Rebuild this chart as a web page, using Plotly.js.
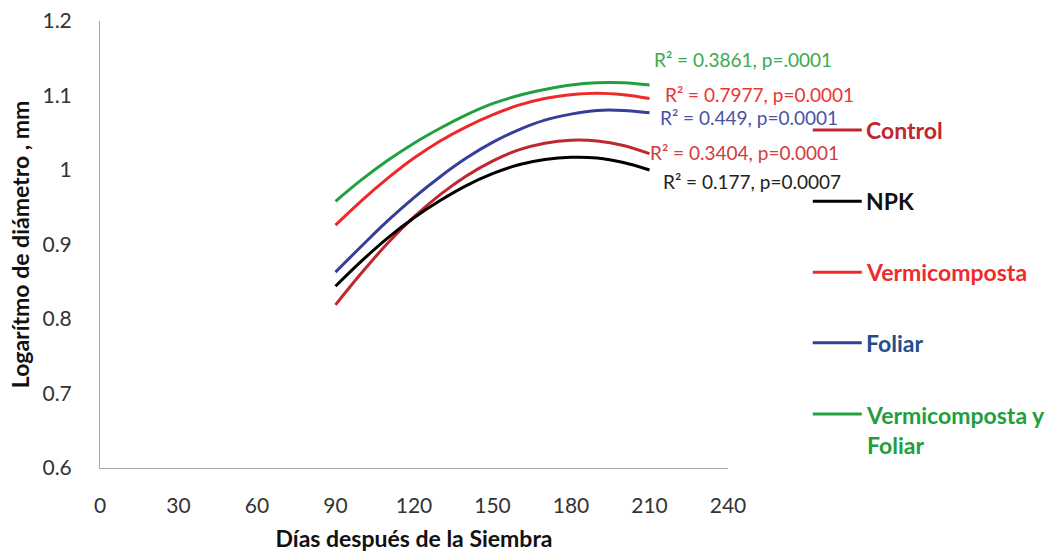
<!DOCTYPE html>
<html>
<head>
<meta charset="utf-8">
<script src="https://cdn.plot.ly/plotly-3.0.1.min.js"></script>
<style>html,body{margin:0;padding:0;background:#fff;}#chart{width:1058px;height:555px;}</style>
</head>
<body>
<div id="chart"></div>
<script>
// Days after sowing
const days = [90, 100, 110, 120, 130, 140, 150, 160, 170, 180, 190, 200, 210];
// Fitted log-diameter curves
const control       = [0.819, 0.862, 0.902, 0.937, 0.967, 0.992, 1.012, 1.027, 1.036, 1.040, 1.039, 1.033, 1.022];
const npk           = [0.844, 0.878, 0.909, 0.936, 0.959, 0.979, 0.995, 1.007, 1.014, 1.017, 1.016, 1.010, 1.000];
const vermicomposta = [0.926, 0.959, 0.989, 1.016, 1.039, 1.058, 1.074, 1.087, 1.096, 1.101, 1.103, 1.101, 1.096];
const foliar        = [0.863, 0.898, 0.932, 0.963, 0.991, 1.016, 1.037, 1.054, 1.067, 1.075, 1.080, 1.080, 1.077];
const vermiFoliar   = [0.958, 0.987, 1.013, 1.036, 1.056, 1.074, 1.089, 1.100, 1.108, 1.114, 1.117, 1.117, 1.114];

const seriesNames = ["Control", "NPK", "Vermicomposta", "Foliar", "Vermicomposta y<br>Foliar"];
const seriesData = [control, npk, vermicomposta, foliar, vermiFoliar];
const lineColors = ["#C0272D", "#000000", "#F0282A", "#353F9A", "#22A040"];
const legendTextColors = ["#C0272D", "#111111", "#EE2B2B", "#1F4E8C", "#1E9E3E"];

const statLabels = ["R² = 0.3404, p=0.0001", "R² = 0.177, p=0.0007", "R² = 0.7977, p=0.0001", "R² = 0.449, p=0.0001", "R² = 0.3861, p=.0001"];
const statColors = ["#D13B42", "#222222", "#EE3333", "#4A52A8", "#3BAA4E"];
const statX = [209.3, 214.3, 215.1, 213.2, 210.9];
const statY = [1.024, 0.985, 1.101, 1.071, 1.148];

const xTicks = [0, 30, 60, 90, 120, 150, 180, 210, 240];
const yTicks = [0.6, 0.7, 0.8, 0.9, 1.0, 1.1, 1.2];
const yTickText = ["0.6", "0.7", "0.8", "0.9", "1", "1.1", "1.2"];

const legendY = [0.756, 0.597, 0.438, 0.280, 0.121];

const FONT = "Lato, 'Open Sans', sans-serif";

const traces = seriesData.map((ys, i) => ({
  x: days, y: ys, type: "scatter", mode: "lines",
  line: {color: lineColors[i], width: 3, shape: "spline", smoothing: 1},
  name: seriesNames[i], showlegend: false, hoverinfo: "skip"
}));

const annotations = statLabels.map((t, i) => ({
  text: t, x: statX[i], y: statY[i], xref: "x", yref: "y",
  xanchor: "left", yanchor: "middle", showarrow: false,
  font: {family: FONT, size: 19, color: statColors[i]}
}));

const shapes = [];
seriesNames.forEach((n, i) => {
  shapes.push({type: "line", xref: "paper", yref: "paper",
    x0: 1.135, x1: 1.213, y0: legendY[i], y1: legendY[i],
    line: {color: lineColors[i], width: 3}});
  const multi = n.indexOf("<br>") >= 0;
  annotations.push({text: n, xref: "paper", yref: "paper",
    x: 1.216, y: multi ? legendY[i] - 0.036 : legendY[i], xanchor: "left", yanchor: "middle",
    align: "left", showarrow: false,
    font: {family: FONT, size: 23, weight: "bold", color: legendTextColors[i]}});
});

const layout = {
  width: 1058, height: 555,
  margin: {l: 100, r: 330, t: 21, b: 87},
  paper_bgcolor: "#fff", plot_bgcolor: "#fff",
  font: {family: FONT, color: "#404040"},
  xaxis: {
    range: [0, 240], tickvals: xTicks, ticktext: xTicks.map(String),
    showgrid: false, zeroline: false, showline: true, linecolor: "#A6A6A6", linewidth: 1,
    ticks: "", ticklabelstandoff: 19, tickfont: {family: FONT, size: 21, color: "#333"},
    title: {text: "Días después de la Siembra", standoff: 14, font: {family: FONT, size: 23, weight: "bold", color: "#111"}}
  },
  yaxis: {
    range: [0.6, 1.2], tickvals: yTicks, ticktext: yTickText,
    showgrid: false, zeroline: false, showline: true, linecolor: "#A6A6A6", linewidth: 1,
    ticks: "", ticklabelstandoff: 23, tickfont: {family: FONT, size: 21, color: "#333"},
    title: {text: "Logarítmo de diámetro , mm", standoff: 6, font: {family: FONT, size: 23, weight: "bold", color: "#111"}}
  },
  showlegend: false,
  annotations: annotations,
  shapes: shapes
};

Plotly.newPlot("chart", traces, layout, {displayModeBar: false, staticPlot: true});
</script>
</body>
</html>
